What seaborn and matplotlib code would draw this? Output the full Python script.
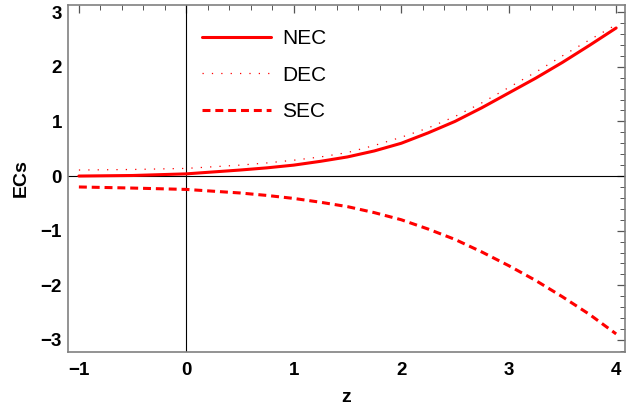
import numpy as np
import pandas as pd
import seaborn as sns
from matplotlib import pyplot as plt
from matplotlib.ticker import MultipleLocator

# values
z = [-1.0, -0.5, 0.0, 0.5, 0.75, 1.0, 1.25, 1.5, 1.75, 2.0, 2.25, 2.5, 2.75, 3.0, 3.25, 3.5, 3.75, 4.0]
nec = [0.0, 0.01, 0.04, 0.11, 0.15, 0.2, 0.27, 0.35, 0.46, 0.6, 0.79, 1.0, 1.25, 1.52, 1.79, 2.08, 2.39, 2.71]
dec = [0.11, 0.12, 0.14, 0.2, 0.24, 0.29, 0.35, 0.43, 0.56, 0.71, 0.88, 1.09, 1.34, 1.62, 1.9, 2.2, 2.49, 2.77]
sec = [-0.2, -0.22, -0.245, -0.31, -0.355, -0.41, -0.48, -0.56, -0.67, -0.8, -0.97, -1.16, -1.39, -1.64, -1.91, -2.21, -2.53, -2.89]
labels = ['NEC', 'DEC', 'SEC']
xticks = [-1, 0, 1, 2, 3, 4]
yticks = [-3, -2, -1, 0, 1, 2, 3]

df = pd.DataFrame({'z': z, 'NEC': nec, 'DEC': dec, 'SEC': sec})

sns.set_style('white')
plt.rcParams['font.family'] = ['Liberation Sans', 'DejaVu Sans']
plt.rcParams['text.color'] = 'black'
plt.rcParams['axes.labelcolor'] = 'black'
plt.rcParams['xtick.color'] = 'black'
plt.rcParams['ytick.color'] = 'black'

fig = plt.figure(figsize=(6.26, 4.2), dpi=100)
ax = fig.add_axes([0.108, 0.162, 0.89, 0.826])

red = '#ff0000'
styles = {
    'NEC': dict(lw=2.2, ls='-'),
    'DEC': dict(lw=0.9, ls=(0, (1, 6.5))),
    'SEC': dict(lw=2.2, ls=(0, (2.6, 1.6))),
}
for name in labels:
    sns.lineplot(data=df, x='z', y=name, ax=ax, color=red, label=name,
                 linewidth=styles[name]['lw'], linestyle=styles[name]['ls'],
                 dash_capstyle='butt')

ax.axhline(0, color='black', lw=0.8, zorder=1)
ax.axvline(0, color='black', lw=0.8, zorder=1)

ax.set_xlim(-1.105, 4.08)
ax.set_ylim(-3.22, 3.13)
ax.set_xticks(xticks, [str(t).replace('-', '\u2212') for t in xticks],
              fontsize=13.5, fontweight='bold', color='black')
ax.set_yticks(yticks, [str(t).replace('-', '\u2212') for t in yticks],
              fontsize=13.5, fontweight='bold', color='black')
ax.xaxis.set_minor_locator(MultipleLocator(0.2))
ax.yaxis.set_minor_locator(MultipleLocator(0.2))
ax.tick_params(which='both', direction='in', top=True, right=True,
               color='#555555')
ax.tick_params(which='major', length=6, width=0.9)
ax.tick_params(which='minor', length=3.5, width=0.7)
ax.tick_params(axis='x', which='major', pad=7.5)
ax.tick_params(axis='y', which='major', pad=4)

for sp in ax.spines.values():
    sp.set_color('#808080')
    sp.set_linewidth(1.2)

ax.set_xlabel('z', fontsize=14, fontweight='bold', labelpad=7, color='black')
ax.set_ylabel('ECs', fontsize=14, fontweight='bold', labelpad=8, color='black')

ax.legend(loc='upper left', bbox_to_anchor=(0.208, 0.985), frameon=False,
          fontsize=15, handlelength=3.3, handletextpad=0.55, labelspacing=0.85)

fig.savefig('out.png', dpi=100)
